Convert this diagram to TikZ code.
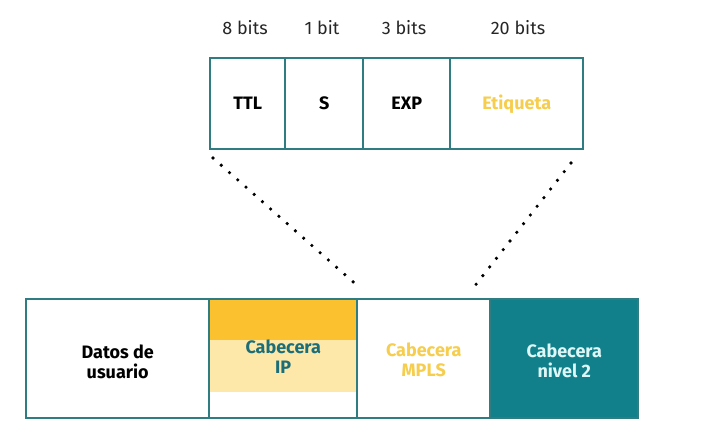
\documentclass[tikz,border=0pt]{standalone}
\usepackage{fontspec}
\setmainfont{Fira Sans}
\begin{document}
\definecolor{tealline}{HTML}{2F7D83}
\definecolor{tealfill}{HTML}{12808B}
\definecolor{ipband}{HTML}{FBC12E}
\definecolor{iplight}{HTML}{FEE8A9}
\definecolor{iptext}{HTML}{1B6E78}
\definecolor{goldtext}{HTML}{F6CD4C}
\definecolor{paletext}{HTML}{DDF6F6}
\begin{tikzpicture}[x=1pt,y=-1pt,
  cell/.style={draw=tealline,line width=2.4pt,anchor=north west,inner sep=0pt},
  label/.style={align=center,inner sep=0pt,font=\bfseries\fontsize{18}{20}\selectfont},
  bits/.style={font=\fontsize{18}{21}\selectfont,text=black!85},
  dots/.style={line width=3.6pt,line cap=round,dash pattern=on 0pt off 11pt,draw=black}]
\useasboundingbox (0,0) rectangle (719,433);
\fill[white] (0,0) rectangle (719,433);

% label field of the MPLS header
\node[cell,minimum width=75pt,minimum height=91pt] (ttl) at (209,57) {};
\node[cell,minimum width=78pt,minimum height=91pt] (s) at (284,57) {};
\node[cell,minimum width=87pt,minimum height=91pt] (exp) at (362,57) {};
\node[cell,minimum width=133pt,minimum height=91pt] (etq) at (449,57) {};
\node[label] (tttl) at (ttl.center) {TTL};
\node[label] (ts) at (s.center) {S};
\node[label] (texp) at (exp.center) {EXP};
\node[label,text=goldtext] (tetq) at (etq.center) {Etiqueta};

\node[bits] (b1) at (245,28) {8 bits};
\node[bits] (b2) at (322,28) {1 bit};
\node[bits] (b3) at (404,28) {3 bits};
\node[bits] (b4) at (518,28) {20 bits};

% packet
\fill[ipband] (208,298) rectangle (356,340);
\fill[iplight] (208,340) rectangle (356,392);
\node[cell,minimum width=183pt,minimum height=119pt] (datos) at (25,298) {};
\node[cell,minimum width=148pt,minimum height=119pt] (ip) at (208,298) {};
\node[cell,minimum width=133pt,minimum height=119pt] (mpls) at (356,298) {};
\node[cell,minimum width=148pt,minimum height=119pt,fill=tealfill] (nivel) at (489,298) {};
\node[label] (tdatos) at ([yshift=-3pt]datos.center) {Datos de\\usuario};
\node[label,text=iptext] (tip) at ([yshift=2pt]ip.center) {Cabecera\\IP};
\node[label,text=goldtext] (tmpls) at ([yshift=-1pt]mpls.center) {Cabecera\\MPLS};
\node[label,text=paletext] (tnivel) at ([yshift=-2pt]nivel.center) {Cabecera\\nivel 2};

% zoom guides
\coordinate (la) at (213,158);
\coordinate (lb) at (360,288);
\coordinate (ra) at (571,163);
\coordinate (rb) at (474,287);
\draw[dots] (la) -- (lb);
\draw[dots] (ra) -- (rb);
\end{tikzpicture}
\end{document}
